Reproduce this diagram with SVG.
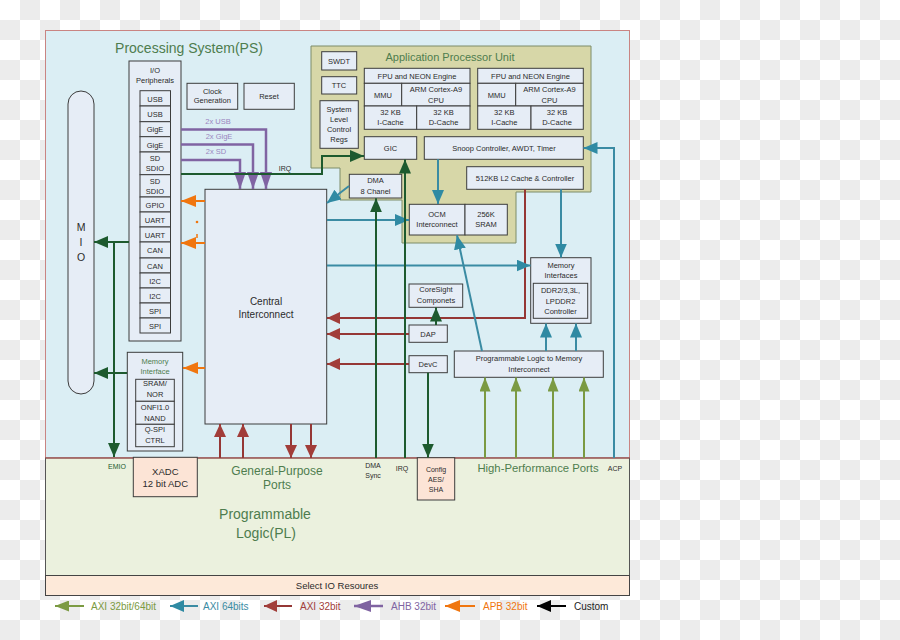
<svg xmlns="http://www.w3.org/2000/svg" width="900" height="640" viewBox="0 0 900 640">
<style>
text{font-family:"Liberation Sans","DejaVu Sans",Arial,sans-serif;fill:#2b2b2b;text-anchor:middle}
.bx{fill:#e6edf6;stroke:#3c3c3c;stroke-width:1}
.pk{fill:#fce4d6;stroke:#3c3c3c;stroke-width:1}
.s{font-size:7.5px}
.xs{font-size:7px}
.g{fill:#4e7d4e}
.pl{fill:#9a85c0;font-size:7.5px}
.lg{font-size:10px;text-anchor:start}
.c{fill:none;stroke-width:2}
.pu{stroke:#8064a2;stroke-width:2.5}
.bl{stroke:#3a8ba3}
.rd{stroke:#953735}
.or{stroke:#f0760f}
.gn{stroke:#7b9a42}
.dk{stroke:#1d5a2e}
.bk{stroke:#000}
</style>
<defs>
<pattern id="chk" patternUnits="userSpaceOnUse" width="40" height="40">
<rect width="40" height="40" fill="#ffffff"/>
<rect x="20" y="0" width="20" height="20" fill="#ececec"/>
<rect x="0" y="20" width="20" height="20" fill="#ececec"/>
</pattern>
<marker id="aPu" markerUnits="userSpaceOnUse" markerWidth="17" markerHeight="12" refX="17" refY="6" orient="auto"><path d="M0,0L17,6L0,12z" fill="#8064a2"/></marker>
<marker id="aBl" markerUnits="userSpaceOnUse" markerWidth="14" markerHeight="12" refX="14" refY="6" orient="auto"><path d="M0,0L14,6L0,12z" fill="#2f8aa3"/></marker>
<marker id="aRd" markerUnits="userSpaceOnUse" markerWidth="13" markerHeight="12" refX="13" refY="6" orient="auto"><path d="M0,0L13,6L0,12z" fill="#a13d39"/></marker>
<marker id="aOr" markerUnits="userSpaceOnUse" markerWidth="15" markerHeight="12" refX="15" refY="6" orient="auto"><path d="M0,0L15,6L0,12z" fill="#f0760f"/></marker>
<marker id="aGn" markerUnits="userSpaceOnUse" markerWidth="14" markerHeight="11" refX="14" refY="5.5" orient="auto"><path d="M0,0L14,5.5L0,11z" fill="#7b9a42"/></marker>
<marker id="aDk" markerUnits="userSpaceOnUse" markerWidth="14" markerHeight="12" refX="14" refY="6" orient="auto"><path d="M0,0L14,6L0,12z" fill="#1d5a2e"/></marker>
<marker id="aBk" markerUnits="userSpaceOnUse" markerWidth="14" markerHeight="12" refX="14" refY="6" orient="auto"><path d="M0,0L14,6L0,12z" fill="#000"/></marker>
</defs>

<rect width="900" height="640" fill="url(#chk)"/>

<g id="regions">
<rect x="45.5" y="30.5" width="584" height="427.5" fill="#dbeef4" stroke="#c98482" stroke-width="1"/>
<rect x="45.5" y="458" width="584" height="117.5" fill="#ebf1de" stroke="#555" stroke-width="1"/>
<line x1="45.5" y1="458" x2="629.5" y2="458" stroke="#b5514f" stroke-width="1"/>
<rect x="45.5" y="575.5" width="584" height="20" fill="#fde9d9" stroke="#444" stroke-width="1"/>
<text x="189" y="52.5" font-size="14" class="g">Processing System(PS)</text>
<text x="277" y="474.5" font-size="12" class="g">General-Purpose</text>
<text x="277" y="489" font-size="12" class="g">Ports</text>
<text x="265" y="519" font-size="14" class="g">Programmable</text>
<text x="266" y="538" font-size="14" class="g">Logic(PL)</text>
<text x="538" y="472" font-size="11.3" class="g">High-Performance Ports</text>
<text x="337" y="588.5" font-size="9.5">Select IO Resoures</text>
<text x="117" y="468.5" class="xs" style="fill:#1d5a2e">EMIO</text>
<text x="373" y="467.5" class="xs">DMA</text>
<text x="373" y="478" class="xs">Sync</text>
<text x="402" y="471" class="xs">IRQ</text>
<text x="615" y="471" class="xs">ACP</text>
</g>

<g id="apu">
<path d="M311,46H591V192H516V243H402V200H340V168H311Z" fill="#d7d7a8" stroke="#7d8c68" stroke-width="1"/>
<text x="450" y="61" font-size="11" class="g">Application Processor Unit</text>
</g>

<g id="mio">
<rect x="68" y="91" width="26" height="303" rx="13" fill="#e6edf6" stroke="#3c3c3c"/>
<text x="81" y="231" font-size="10.5">M</text>
<text x="81" y="246" font-size="10.5">I</text>
<text x="81" y="261" font-size="10.5">O</text>
</g>

<g id="io-peripherals">
<rect class="bx" x="129" y="61" width="52" height="280"/>
<text x="155" y="73" class="s">I/O</text>
<text x="155" y="83" class="s">Peripherals</text>
<rect class="bx" x="140" y="90.7" width="30.5" height="15.3"/><text x="155" y="101.5" class="s">USB</text>
<rect class="bx" x="140" y="106" width="30.5" height="15.7"/><text x="155" y="117" class="s">USB</text>
<rect class="bx" x="140" y="121.7" width="30.5" height="15"/><text x="155" y="132" class="s">GigE</text>
<rect class="bx" x="140" y="136.7" width="30.5" height="15.3"/><text x="155" y="147.5" class="s">GigE</text>
<rect class="bx" x="140" y="152" width="30.5" height="22.7"/><text x="155" y="161" class="s">SD</text><text x="155" y="171" class="s">SDIO</text>
<rect class="bx" x="140" y="174.7" width="30.5" height="22.3"/><text x="155" y="184" class="s">SD</text><text x="155" y="194" class="s">SDIO</text>
<rect class="bx" x="140" y="197" width="30.5" height="15"/><text x="155" y="207.5" class="s">GPIO</text>
<rect class="bx" x="140" y="212" width="30.5" height="15"/><text x="155" y="222.5" class="s">UART</text>
<rect class="bx" x="140" y="227" width="30.5" height="15"/><text x="155" y="237.5" class="s">UART</text>
<rect class="bx" x="140" y="242" width="30.5" height="16"/><text x="155" y="253" class="s">CAN</text>
<rect class="bx" x="140" y="258" width="30.5" height="15"/><text x="155" y="268.5" class="s">CAN</text>
<rect class="bx" x="140" y="273" width="30.5" height="15"/><text x="155" y="283.5" class="s">I2C</text>
<rect class="bx" x="140" y="288" width="30.5" height="15"/><text x="155" y="298.5" class="s">I2C</text>
<rect class="bx" x="140" y="303" width="30.5" height="15"/><text x="155" y="313.5" class="s">SPI</text>
<rect class="bx" x="140" y="318" width="30.5" height="15"/><text x="155" y="328.5" class="s">SPI</text>
</g>

<g id="memory-interface">
<rect class="bx" x="127.3" y="352.3" width="55.4" height="98.7"/>
<text x="155" y="363.5" class="s g">Memory</text>
<text x="155" y="373.5" class="s g">Interface</text>
<rect class="bx" x="135.7" y="379.3" width="38.6" height="22"/><text x="155" y="386" class="s">SRAM/</text><text x="155" y="397" class="s">NOR</text>
<rect class="bx" x="135.7" y="401.3" width="38.6" height="23"/><text x="155" y="410" class="s">ONFI1.0</text><text x="155" y="421" class="s">NAND</text>
<rect class="bx" x="135.7" y="424.3" width="38.6" height="22.4"/><text x="155" y="432" class="s">Q-SPI</text><text x="155" y="443" class="s">CTRL</text>
</g>

<g id="clock-generation">
<rect class="bx" x="187" y="83.3" width="50.7" height="26"/>
<text x="212.3" y="93.5" class="s">Clock</text>
<text x="212.3" y="103" class="s">Generation</text>
</g>
<g id="reset">
<rect class="bx" x="244" y="83.3" width="50.3" height="26"/>
<text x="269" y="99" class="s">Reset</text>
</g>

<g id="central-interconnect">
<rect class="bx" x="205" y="189.3" width="121.7" height="234.7"/>
<text x="266" y="304.5" font-size="10">Central</text>
<text x="266" y="317.5" font-size="10">Interconnect</text>
</g>

<g id="swdt"><rect class="bx" x="321.7" y="51.7" width="35" height="18.3"/><text x="339" y="64" class="s">SWDT</text></g>
<g id="ttc"><rect class="bx" x="321.7" y="76.7" width="35" height="17.3"/><text x="339" y="88" class="s">TTC</text></g>
<g id="slcr"><rect class="bx" x="320" y="100.7" width="38.3" height="47.6"/>
<text x="339" y="112" class="s">System</text><text x="339" y="122" class="s">Level</text><text x="339" y="132" class="s">Control</text><text x="339" y="142" class="s">Regs</text></g>

<g id="cpu0">
<rect class="bx" x="364.3" y="68.3" width="105.7" height="15"/><text x="417" y="78.5" class="s">FPU and NEON Engine</text>
<rect class="bx" x="364.3" y="83.3" width="37.4" height="22.7"/><text x="383" y="97.5" class="s">MMU</text>
<rect class="bx" x="401.7" y="83.3" width="68.3" height="22.7"/><text x="436" y="92" class="s">ARM Cortex-A9</text><text x="436" y="103" class="s">CPU</text>
<rect class="bx" x="364.3" y="106" width="52.4" height="23.3"/><text x="390.5" y="114.5" class="s">32 KB</text><text x="390.5" y="125" class="s">I-Cache</text>
<rect class="bx" x="416.7" y="106" width="53.3" height="23.3"/><text x="443.5" y="114.5" class="s">32 KB</text><text x="443.5" y="125" class="s">D-Cache</text>
</g>
<g id="cpu1">
<rect class="bx" x="477.7" y="68.3" width="105.6" height="15"/><text x="530.5" y="78.5" class="s">FPU and NEON Engine</text>
<rect class="bx" x="477.7" y="83.3" width="38" height="22.7"/><text x="496.7" y="97.5" class="s">MMU</text>
<rect class="bx" x="515.7" y="83.3" width="67.6" height="22.7"/><text x="549.5" y="92" class="s">ARM Cortex-A9</text><text x="549.5" y="103" class="s">CPU</text>
<rect class="bx" x="477.7" y="106" width="53.3" height="23.3"/><text x="504.3" y="114.5" class="s">32 KB</text><text x="504.3" y="125" class="s">I-Cache</text>
<rect class="bx" x="531" y="106" width="52.3" height="23.3"/><text x="557" y="114.5" class="s">32 KB</text><text x="557" y="125" class="s">D-Cache</text>
</g>
<g id="gic"><rect class="bx" x="364.3" y="136.7" width="52.4" height="22.6"/><text x="390.5" y="151" class="s">GIC</text></g>
<g id="snoop"><rect class="bx" x="424.3" y="136.7" width="159" height="22.6"/><text x="504" y="151" class="s">Snoop Controller, AWDT, Timer</text></g>
<g id="l2cache"><rect class="bx" x="466.7" y="166.7" width="116.6" height="22.6"/><text x="525" y="181" class="s">512KB L2 Cache &amp; Controller</text></g>
<g id="dma"><rect class="bx" x="349.3" y="174.3" width="52.4" height="23.7"/><text x="375.5" y="182.5" class="s">DMA</text><text x="375.5" y="193.5" class="s">8 Chanel</text></g>
<g id="ocm">
<rect class="bx" x="409.3" y="204.3" width="55.7" height="30.7"/><text x="437" y="216.5" class="s">OCM</text><text x="437" y="226.5" class="s">Interconnect</text>
<rect class="bx" x="465" y="204.3" width="42.3" height="30.7"/><text x="486" y="216.5" class="s">256K</text><text x="486" y="226.5" class="s">SRAM</text>
</g>
<g id="memory-interfaces">
<rect class="bx" x="530.7" y="257.7" width="60.3" height="65.6"/>
<text x="561" y="267.5" class="s">Memory</text><text x="561" y="277.5" class="s">Interfaces</text>
<rect class="bx" x="533.3" y="283.3" width="54.4" height="35"/>
<text x="560.5" y="293" class="s">DDR2/3,3L,</text><text x="560.5" y="304" class="s">LPDDR2</text><text x="560.5" y="314" class="s">Controller</text>
</g>
<g id="coresight"><rect class="bx" x="409" y="284" width="53.7" height="23.3"/><text x="436" y="292" class="s">CoreSight</text><text x="436" y="302.5" class="s">Componets</text></g>
<g id="dap"><rect class="bx" x="409" y="325" width="38.3" height="17.3"/><text x="428" y="336.5" class="s">DAP</text></g>
<g id="devc"><rect class="bx" x="409" y="355.7" width="38.3" height="17"/><text x="428" y="367" class="s">DevC</text></g>
<g id="pl-mem-interconnect"><rect class="bx" x="454.3" y="351" width="149" height="26.3"/><text x="529" y="361" class="s">Programmable Logic to Memory</text><text x="529" y="372" class="s">Interconnect</text></g>
<g id="xadc"><rect class="pk" x="133.3" y="457.3" width="64" height="39.4"/><text x="165.3" y="475" font-size="9.5">XADC</text><text x="165.3" y="487" font-size="9.5">12 bit ADC</text></g>
<g id="config"><rect class="pk" x="417.3" y="457.7" width="37.4" height="42.3"/><text x="436" y="471.5" class="xs">Config</text><text x="436" y="481.5" class="xs">AES/</text><text x="436" y="491.5" class="xs">SHA</text></g>

<g id="connectors">
<path class="c pu" d="M181,129.5H266V189" marker-end="url(#aPu)"/>
<path class="c pu" d="M181,144.5H253V189" marker-end="url(#aPu)"/>
<path class="c pu" d="M181,160H240V189" marker-end="url(#aPu)"/>
<text x="218" y="123.5" class="pl">2x USB</text>
<text x="219" y="138.5" class="pl">2x GigE</text>
<text x="216" y="153.5" class="pl">2x SD</text>
<path class="c dk" d="M181,174H322V156H364" marker-end="url(#aDk)"/>
<text x="285" y="170.5" class="xs">IRQ</text>
<path class="c dk" d="M129,242H94" marker-end="url(#aDk)"/>
<path class="c dk" d="M114,242V457" marker-end="url(#aDk)"/>
<path class="c dk" d="M127,373H94" marker-end="url(#aDk)"/>
<path class="c or" d="M205,201H181" marker-end="url(#aOr)"/>
<path class="c or" d="M205,243H181" marker-end="url(#aOr)"/>
<path class="c or" d="M205,368H183" marker-end="url(#aOr)"/>
<circle cx="197" cy="222" r="1.3" fill="#f0760f"/>
<line x1="197" y1="234" x2="197" y2="238" stroke="#f0760f" stroke-width="1.5"/>
<path class="c rd" d="M220,458V424" marker-end="url(#aRd)"/>
<path class="c rd" d="M243,458V424" marker-end="url(#aRd)"/>
<path class="c rd" d="M291,424V458" marker-end="url(#aRd)"/>
<path class="c rd" d="M311,424V458" marker-end="url(#aRd)"/>
<path class="c rd" d="M525,189.3V318H327" marker-end="url(#aRd)"/>
<path class="c rd" d="M409,334H327" marker-end="url(#aRd)"/>
<path class="c rd" d="M409,364H327" marker-end="url(#aRd)"/>
<path class="c bl" d="M349,186L327,203" marker-end="url(#aBl)"/>
<path class="c bl" d="M327,220H409" marker-end="url(#aBl)"/>
<path class="c bl" d="M327,265.5H530.5" marker-end="url(#aBl)"/>
<path class="c bl" d="M438,159.3V204" marker-end="url(#aBl)"/>
<path class="c bl" d="M561,189.3V257.5" marker-end="url(#aBl)"/>
<path class="c bl" d="M614,458V148H583.5" marker-end="url(#aBl)"/>
<path class="c bl" d="M546,351V323.5" marker-end="url(#aBl)"/>
<path class="c bl" d="M576,351V323.5" marker-end="url(#aBl)"/>
<path class="c bl" d="M482,351L457,235.3" marker-end="url(#aBl)"/>
<path class="c gn" d="M485,458V377.5" marker-end="url(#aGn)"/>
<path class="c gn" d="M516,458V377.5" marker-end="url(#aGn)"/>
<path class="c gn" d="M553,458V377.5" marker-end="url(#aGn)"/>
<path class="c gn" d="M584,458V377.5" marker-end="url(#aGn)"/>
<path class="c dk" d="M376,458V198.3" marker-end="url(#aDk)"/>
<path class="c dk" d="M405,458V159.5" marker-end="url(#aDk)"/>
<path class="c dk" d="M428,372.7V457.5" marker-end="url(#aDk)"/>
<path class="c dk" d="M436,325V307.5" marker-end="url(#aDk)"/>
</g>

<g id="legend">
<path class="c gn" d="M84,606H55" marker-end="url(#aGn)"/><text x="91" y="609.5" class="lg" style="fill:#7b9a42">AXI 32bit/64bit</text>
<path class="c bl" d="M198,606H170" marker-end="url(#aBl)"/><text x="203" y="609.5" class="lg" style="fill:#3a8ba3">AXI 64bits</text>
<path class="c rd" d="M292,606H264" marker-end="url(#aRd)"/><text x="300" y="609.5" class="lg" style="fill:#a13d39">AXI 32bit</text>
<path class="c pu" d="M383,606H354" marker-end="url(#aPu)"/><text x="391" y="609.5" class="lg" style="fill:#8064a2">AHB 32bit</text>
<path class="c or" d="M475,606H445" marker-end="url(#aOr)"/><text x="483" y="609.5" class="lg" style="fill:#f0760f">APB 32bit</text>
<path class="c bk" d="M566,606H537" marker-end="url(#aBk)"/><text x="574" y="609.5" class="lg" style="fill:#222">Custom</text>
</g>
</svg>
